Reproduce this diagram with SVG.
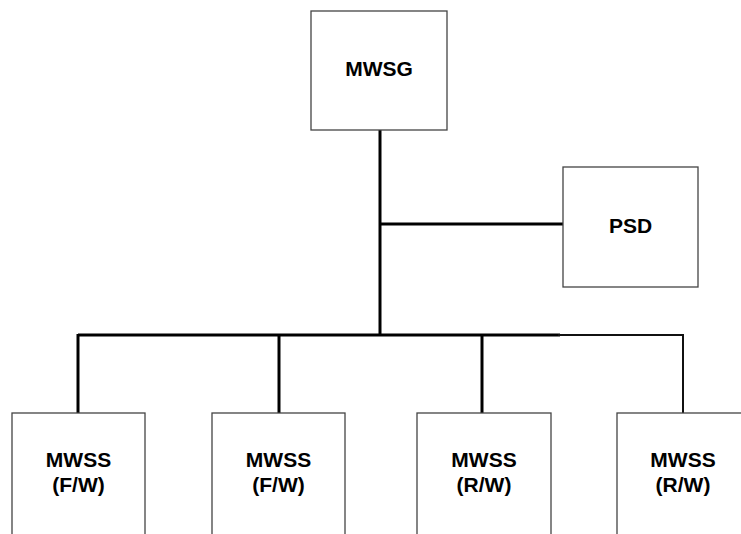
<svg xmlns="http://www.w3.org/2000/svg" width="741" height="534" viewBox="0 0 741 534">
<style>
.box{fill:#fff;stroke:#444;stroke-width:1.3}
.t{font-family:"Liberation Sans",Arial,sans-serif;font-weight:bold;font-size:21px;fill:#000;text-anchor:middle}
.c{stroke:#000;stroke-width:3;fill:none}
.c2{stroke:#111;stroke-width:2;fill:none}
</style>
<rect width="741" height="534" fill="#fff"/>
<g id="connectors">
<line class="c" x1="380" y1="130" x2="380" y2="336"/>
<line class="c" x1="380" y1="224" x2="563" y2="224"/>
<line class="c" x1="78" y1="335" x2="560" y2="335"/>
<line class="c2" x1="558" y1="335" x2="684" y2="335"/>
<line class="c" x1="78" y1="334" x2="78" y2="413"/>
<line class="c" x1="279" y1="334" x2="279" y2="413"/>
<line class="c" x1="482" y1="334" x2="482" y2="413"/>
<line class="c2" x1="683" y1="334" x2="683" y2="413"/>
</g>
<g id="mwsg">
<rect class="box" x="311" y="11" width="136" height="119"/>
<text class="t" x="379" y="76">MWSG</text>
</g>
<g id="psd">
<rect class="box" x="563" y="167" width="135" height="120"/>
<text class="t" x="630.5" y="233">PSD</text>
</g>
<g id="mwss1">
<rect class="box" x="12" y="413" width="133" height="130"/>
<text class="t" x="78.5" y="467">MWSS</text>
<text class="t" x="78.5" y="492">(F/W)</text>
</g>
<g id="mwss2">
<rect class="box" x="212" y="413" width="133" height="130"/>
<text class="t" x="278.5" y="467">MWSS</text>
<text class="t" x="278.5" y="492">(F/W)</text>
</g>
<g id="mwss3">
<rect class="box" x="417" y="413" width="134" height="130"/>
<text class="t" x="484" y="467">MWSS</text>
<text class="t" x="484" y="492">(R/W)</text>
</g>
<g id="mwss4">
<rect class="box" x="617" y="413" width="134" height="130"/>
<text class="t" x="683" y="467">MWSS</text>
<text class="t" x="683" y="492">(R/W)</text>
</g>
</svg>
